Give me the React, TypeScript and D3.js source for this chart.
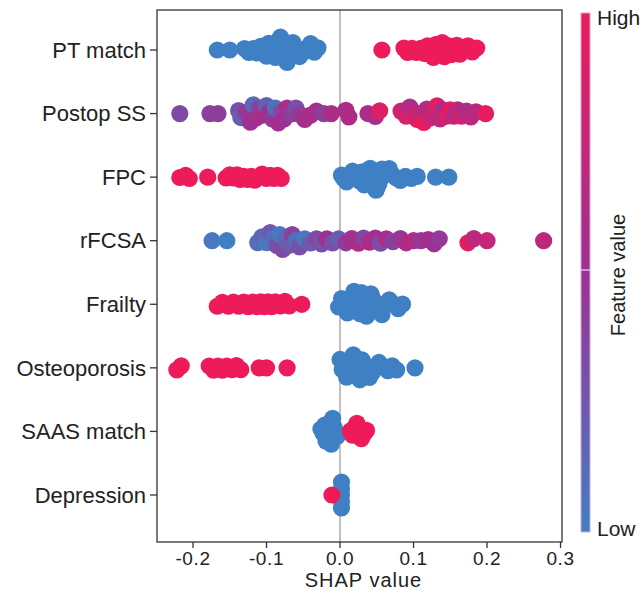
import React from "react";
import * as d3 from "d3";

// features, top to bottom
const features = ["PT match", "Postop SS", "FPC", "rFCSA", "Frailty", "Osteoporosis", "SAAS match", "Depression"];
const xTicks = [-0.2, -0.1, 0.0, 0.1, 0.2, 0.3];

// binary features: shap values of low (0) and high (1) cases
const ptMatchLow = [-0.167, -0.150, -0.130, -0.124, -0.118, -0.113, -0.108, -0.104, -0.100, -0.097, -0.094, -0.091, -0.088, -0.085, -0.083, -0.081, -0.079, -0.077, -0.075, -0.072, -0.070, -0.067, -0.064, -0.060, -0.055, -0.050, -0.045, -0.040, -0.035, -0.030];
const ptMatchHigh = [0.057, 0.087, 0.092, 0.098, 0.104, 0.110, 0.115, 0.119, 0.123, 0.127, 0.130, 0.133, 0.136, 0.139, 0.142, 0.145, 0.148, 0.151, 0.155, 0.159, 0.163, 0.168, 0.174, 0.180, 0.186];
const fpcLow = [0.002, 0.005, 0.009, 0.013, 0.017, 0.021, 0.024, 0.027, 0.030, 0.033, 0.035, 0.037, 0.039, 0.041, 0.043, 0.045, 0.047, 0.049, 0.051, 0.053, 0.055, 0.057, 0.060, 0.063, 0.067, 0.071, 0.076, 0.082, 0.089, 0.097, 0.105, 0.130, 0.148];
const fpcHigh = [-0.218, -0.210, -0.205, -0.180, -0.155, -0.150, -0.145, -0.140, -0.136, -0.131, -0.126, -0.121, -0.116, -0.111, -0.106, -0.100, -0.095, -0.090, -0.085, -0.080];
const frailtyLow = [-0.002, 0.002, 0.006, 0.010, 0.013, 0.016, 0.019, 0.021, 0.023, 0.025, 0.027, 0.029, 0.031, 0.033, 0.036, 0.039, 0.042, 0.045, 0.049, 0.053, 0.057, 0.062, 0.067, 0.073, 0.079, 0.085];
const frailtyHigh = [-0.167, -0.160, -0.152, -0.145, -0.138, -0.131, -0.125, -0.119, -0.113, -0.108, -0.103, -0.098, -0.093, -0.088, -0.081, -0.075, -0.069, -0.052];
const osteoLow = [0.000, 0.003, 0.006, 0.009, 0.012, 0.014, 0.016, 0.018, 0.020, 0.022, 0.024, 0.027, 0.030, 0.033, 0.036, 0.040, 0.044, 0.048, 0.053, 0.059, 0.065, 0.071, 0.077, 0.102];
const osteoHigh = [-0.222, -0.216, -0.178, -0.172, -0.166, -0.160, -0.154, -0.147, -0.141, -0.135, -0.110, -0.100, -0.072];
const saasLow = [-0.026, -0.023, -0.021, -0.019, -0.017, -0.015, -0.013, -0.012, -0.010, -0.008, -0.006, -0.004];
const saasHigh = [0.014, 0.017, 0.020, 0.023, 0.026, 0.029, 0.032, 0.036];
const depressionLow = [0.002, 0.002, 0.002, 0.002, 0.002];
const depressionHigh = [-0.011];

// continuous features: shap value and scaled feature value (0 low .. 1 high)
const postopShap = [-0.218, -0.177, -0.166, -0.138, -0.135, -0.128, -0.122, -0.118, -0.114, -0.110, -0.105, -0.100, -0.096, -0.092, -0.088, -0.084, -0.080, -0.076, -0.072, -0.066, -0.060, -0.055, -0.048, -0.040, -0.032, -0.022, -0.012, 0.008, 0.012, 0.038, 0.048, 0.054, 0.083, 0.090, 0.095, 0.100, 0.105, 0.110, 0.114, 0.118, 0.122, 0.127, 0.132, 0.136, 0.140, 0.145, 0.150, 0.155, 0.160, 0.165, 0.172, 0.178, 0.185, 0.198];
const postopValue = [0.35, 0.4, 0.42, 0.3, 0.2, 0.45, 0.5, 0.15, 0.55, 0.4, 0.6, 0.2, 0.5, 0.45, 0.1, 0.55, 0.35, 0.5, 0.6, 0.4, 0.3, 0.45, 0.55, 0.6, 0.55, 0.4, 0.6, 0.6, 0.62, 0.6, 0.58, 0.9, 0.8, 0.85, 0.6, 0.75, 0.9, 0.7, 1.0, 0.65, 0.8, 0.75, 0.9, 0.7, 0.6, 0.85, 0.95, 0.7, 0.65, 0.8, 0.6, 0.7, 0.65, 0.95];
const rfcsaShap = [-0.174, -0.154, -0.112, -0.106, -0.100, -0.095, -0.090, -0.086, -0.082, -0.078, -0.074, -0.070, -0.065, -0.060, -0.055, -0.048, -0.040, -0.032, -0.025, -0.018, -0.010, -0.002, 0.008, 0.016, 0.025, 0.032, 0.040, 0.048, 0.055, 0.063, 0.072, 0.082, 0.090, 0.100, 0.110, 0.120, 0.128, 0.135, 0.174, 0.182, 0.200, 0.277];
const rfcsaValue = [0.05, 0.0, 0.1, 0.15, 0.05, 0.25, 0.1, 0.3, 0.05, 0.35, 0.15, 0.25, 0.4, 0.1, 0.3, 0.05, 0.25, 0.35, 0.3, 0.5, 0.3, 0.2, 0.45, 0.55, 0.6, 0.35, 0.6, 0.55, 0.3, 0.6, 0.4, 0.45, 0.6, 0.65, 0.45, 0.55, 0.5, 0.45, 0.95, 0.7, 0.75, 0.7];

const binary = (low: number[], high: number[]) => ({
  shap: [...low, ...high],
  value: [...low.map(() => 0), ...high.map(() => 1)],
});

const rows = [
  binary(ptMatchLow, ptMatchHigh),
  { shap: postopShap, value: postopValue },
  binary(fpcLow, fpcHigh),
  { shap: rfcsaShap, value: rfcsaValue },
  binary(frailtyLow, frailtyHigh),
  binary(osteoLow, osteoHigh),
  binary(saasLow, saasHigh),
  binary(depressionLow, depressionHigh),
];

const W = 642, H = 594;
const left = 157, right = 562, top = 10, bottom = 542;
const blue = "#3f80c4", mid = "#9c3193", red = "#ed1b5a";

const x = d3.scaleLinear().domain([-0.249, 0.302]).range([left, right]);
const y = d3.scaleLinear().domain([0, features.length - 1]).range([50, 495]);
const color = d3.scaleLinear<string>().domain([0, 0.5, 1]).range([blue, mid, red]).interpolate(d3.interpolateRgb);
const fmt = (t: number) => d3.format(".1f")(t).replace("\u2212", "-");

// beeswarm: x fixed at the shap value, y pushed apart by a loose collide force,
// then squeezed so no row spreads more than maxSpread px either side
const maxSpread = 13;
type Node = { fx: number; x: number; y: number; c: string };
function swarm(r: { shap: number[]; value: number[] }, cy: number): Node[] {
  const nodes = r.shap.map((v, j) => ({ fx: x(v), x: x(v), y: cy, c: color(r.value[j]) } as Node));
  d3.forceSimulation(nodes as any)
    .force("y", d3.forceY(cy).strength(0.08))
    .force("c", d3.forceCollide(3.6).iterations(3))
    .stop()
    .tick(300);
  const m = d3.max(nodes, n => Math.abs(n.y - cy)) || 1;
  const k = Math.min(1, maxSpread / m);
  nodes.forEach(n => { n.y = cy + (n.y - cy) * k; });
  return nodes;
}

export default function App() {
  const font = "'Liberation Sans', Arial, sans-serif";
  const dots = rows.map((r, i) => swarm(r, y(i)));
  return (
    <div style={{ position: "absolute", left: 0, top: 0 }}>
      <svg width={W} height={H} style={{ display: "block", fontFamily: font }}>
        <defs>
          <linearGradient id="cbar" x1="0" y1="1" x2="0" y2="0">
            <stop offset="0%" stopColor={blue} />
            <stop offset="50%" stopColor={mid} />
            <stop offset="100%" stopColor={red} />
          </linearGradient>
        </defs>

        <line x1={x(0)} x2={x(0)} y1={top} y2={bottom} stroke="#a0a0a0" strokeWidth={1.3} />

        {dots.map((ns, i) => (
          <g key={features[i]}>
            {ns.map((n, j) => (
              <circle key={j} cx={n.fx} cy={n.y} r={8.6} fill={n.c} />
            ))}
          </g>
        ))}

        <rect x={left} y={top} width={right - left} height={bottom - top} fill="none" stroke="#333" strokeWidth={1.3} />

        {features.map((f, i) => (
          <g key={f}>
            <line x1={left - 7} x2={left} y1={y(i)} y2={y(i)} stroke="#333" strokeWidth={1.3} />
            <text x={left - 11} y={y(i)} dy="0.35em" textAnchor="end" fontSize={22} fill="#222">{f}</text>
          </g>
        ))}

        {xTicks.map(t => (
          <g key={t}>
            <line x1={x(t)} x2={x(t)} y1={bottom} y2={bottom + 6} stroke="#333" strokeWidth={1.3} />
            <text x={x(t)} y={bottom + 23} textAnchor="middle" fontSize={19} letterSpacing={0.6} fill="#222">{fmt(t)}</text>
          </g>
        ))}
        <text x={(left + right) / 2 + 4} y={587} textAnchor="middle" fontSize={20} letterSpacing={1} fill="#222">SHAP value</text>

        <rect x={581} y={13} width={9} height={519} fill="url(#cbar)" stroke="#cfa6d6" strokeWidth={1} />
        <line x1={581} x2={590} y1={270} y2={270} stroke="#fff" strokeWidth={1} />
        <text x={597} y={18} dy="0.35em" fontSize={21} fill="#222">High</text>
        <text x={597} y={529} dy="0.35em" fontSize={21} fill="#222">Low</text>
        <text transform="translate(618,275) rotate(-90)" textAnchor="middle" dy="0.35em" fontSize={20} fill="#222">Feature value</text>
      </svg>
    </div>
  );
}
